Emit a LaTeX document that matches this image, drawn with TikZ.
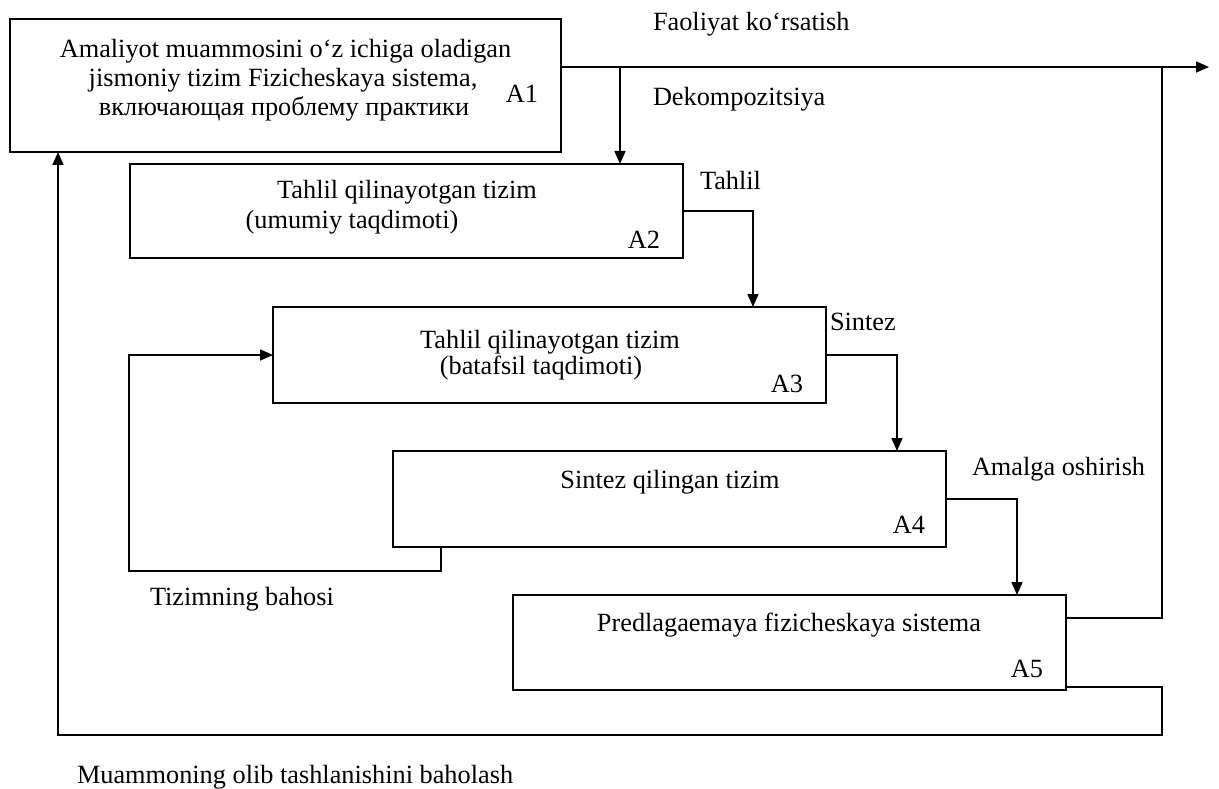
\documentclass[tikz,border=0pt]{standalone}
\usepackage{fontspec}
\setmainfont{Liberation Serif}
\usetikzlibrary{arrows.meta}
\begin{document}
\begin{tikzpicture}[x=1pt,y=-1pt,
  box/.style={draw,line width=1.3pt,inner sep=0pt,outer sep=0pt},
  conn/.style={line width=1.7pt},
  thinconn/.style={line width=1.2pt},
  tip/.style={-{Triangle[length=13pt,width=11pt]}},
  txt/.style={font=\fontsize{26.3pt}{28pt}\selectfont,inner sep=0pt,outer sep=0pt}
]
\useasboundingbox (0,0) rectangle (1219,789);

% the five stage boxes
\node[box,minimum width=551pt,minimum height=133pt] (a1) at (285.5,85.5) {};
\node[box,minimum width=553pt,minimum height=94pt]  (a2) at (406.5,211) {};
\node[box,minimum width=553pt,minimum height=96pt]  (a3) at (549.5,355) {};
\node[box,minimum width=553pt,minimum height=96pt]  (a4) at (669.5,499) {};
\node[box,minimum width=553pt,minimum height=95pt]  (a5) at (789.5,642.5) {};

% box texts
\node[txt,anchor=mid] (a1t1) at (285.5,55) {Amaliyot muammosini o‘z ichiga oladigan};
\node[txt,anchor=mid] (a1t2) at (283,84) {jismoniy tizim Fizicheskaya sistema,};
\node[txt,anchor=mid] (a1t3) at (284,113) {включающая проблему практики};
\node[txt,anchor=mid east] (a1n) at (538,100) {A1};

\node[txt,anchor=mid] (a2t1) at (407,196) {Tahlil qilinayotgan tizim};
\node[txt,anchor=mid] (a2t2) at (352,226) {(umumiy taqdimoti)};
\node[txt,anchor=mid east] (a2n) at (660,246) {A2};

\node[txt,anchor=mid] (a3t1) at (550,346) {Tahlil qilinayotgan tizim};
\node[txt,anchor=mid] (a3t2) at (541,372) {(batafsil taqdimoti)};
\node[txt,anchor=mid east] (a3n) at (803,390) {A3};

\node[txt,anchor=mid] (a4t) at (670,486) {Sintez qilingan tizim};
\node[txt,anchor=mid east] (a4n) at (925,531) {A4};

\node[txt,anchor=mid] (a5t) at (789,629) {Predlagaemaya fizicheskaya sistema};
\node[txt,anchor=mid east] (a5n) at (1043,675) {A5};

% connector labels
\node[txt,anchor=mid west] (lfao) at (653,28) {Faoliyat ko‘rsatish};
\node[txt,anchor=mid west] (ldek) at (653,103) {Dekompozitsiya};
\node[txt,anchor=mid west] (ltah) at (700,187) {Tahlil};
\node[txt,anchor=mid west] (lsin) at (830,328) {Sintez};
\node[txt,anchor=mid west] (lama) at (972,473) {Amalga oshirish};
\node[txt,anchor=mid west] (ltiz) at (150,603) {Tizimning bahosi};
\node[txt,anchor=mid west] (lmua) at (77,781) {Muammoning olib tashlanishini baholash};

% free ends and bends
\coordinate (out)   at (1209,67);
\coordinate (split) at (620,67);
\coordinate (join)  at (1162,67);
\coordinate (botl)  at (58,735);
\coordinate (loopl) at (129,571);

% main output and decomposition
\draw[conn,tip] ([yshift=-48pt]a1.north east) -- (out);
\draw[conn,tip] (split) -- (split |- a2.north);

% stage chain
\draw[conn,tip] (a2.east) -| ([xshift=-73pt]a3.north east);
\draw[conn,tip] (a3.east) -| ([xshift=-49pt]a4.north east);
\draw[conn,tip] (a4.east) -| ([xshift=-49pt]a5.north east);

% proposed system feeds the output line
\draw[thinconn] ([yshift=24.5pt]a5.east) -| (join);

% evaluation of problem removal back to A1
\draw[conn,tip] ([yshift=-44.5pt]a5.east) -- ++(96,0) |- (botl) -- (botl |- a1.south);

% system evaluation loop back to A3
\draw[conn,tip] ([xshift=48pt]a4.south west) |- (loopl) |- (a3.west);
\end{tikzpicture}
\end{document}
